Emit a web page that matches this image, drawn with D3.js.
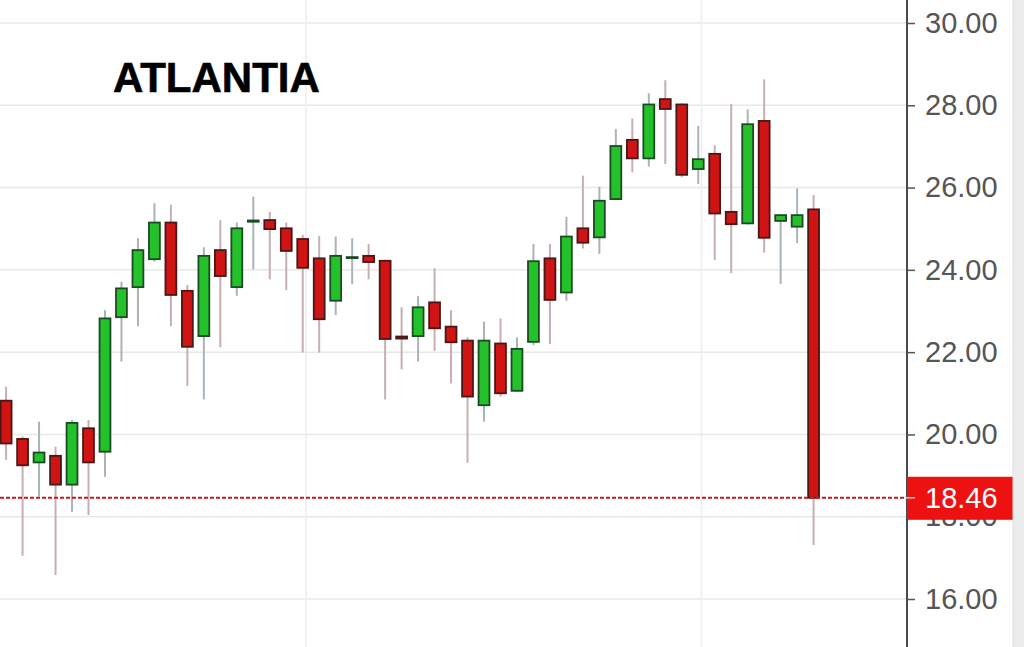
<!DOCTYPE html>
<html>
<head>
<meta charset="utf-8">
<script src="https://cdn.jsdelivr.net/npm/d3@7"></script>
<style>
  html, body { margin: 0; padding: 0; background: #fff; }
  svg { display: block; }
  .tick text { font-family: "Liberation Sans", Arial, sans-serif; }
</style>
</head>
<body>
<div id="chart"></div>
<script>
const title = "ATLANTIA";
const opens  = [20.82, 19.89, 19.32, 19.48, 18.78, 20.15, 19.58, 22.85, 23.58, 24.26,
                25.15, 23.49, 22.39, 24.48, 23.58, 25.17, 25.21, 25.01, 24.75, 24.28,
                23.25, 24.29, 24.34, 24.22, 22.38, 22.39, 23.21, 22.62, 22.28, 20.71,
                22.21, 21.06, 22.25, 24.28, 23.45, 25.01, 24.79, 25.72, 27.16, 26.71,
                28.15, 28.02, 26.45, 26.82, 25.41, 25.13, 27.62, 25.19, 25.05, 25.47];
const highs  = [21.16, 19.95, 20.31, 19.70, 20.35, 20.35, 23.02, 23.71, 24.77, 25.62,
                25.58, 23.63, 24.55, 25.21, 25.15, 25.78, 25.41, 25.15, 24.85, 24.82,
                24.81, 24.77, 24.63, 24.25, 23.09, 23.36, 24.04, 23.02, 22.36, 22.74,
                22.82, 22.36, 24.63, 24.63, 25.29, 26.29, 26.02, 27.42, 27.68, 28.29,
                28.61, 28.05, 27.50, 27.03, 28.03, 27.90, 28.63, 25.35, 25.98, 25.82];
const lows   = [19.38, 17.05, 18.49, 16.58, 18.12, 18.04, 18.97, 21.77, 22.63, 24.20,
                22.63, 21.18, 20.85, 22.12, 23.37, 24.01, 23.77, 23.51, 21.99, 21.99,
                22.90, 23.65, 23.77, 20.85, 21.58, 21.77, 22.03, 21.24, 19.31, 20.31,
                20.92, 21.04, 22.17, 22.20, 23.25, 24.52, 24.39, 25.70, 26.37, 26.51,
                26.57, 26.25, 26.09, 24.24, 23.92, 25.10, 24.42, 23.66, 24.65, 17.31];
const closes = [19.78, 19.25, 19.56, 18.78, 20.28, 19.32, 22.82, 23.55, 24.48, 25.15,
                23.39, 22.13, 24.34, 23.85, 25.01, 25.20, 24.99, 24.46, 24.05, 22.80,
                24.34, 24.31, 24.19, 22.32, 22.33, 23.09, 22.58, 22.24, 20.92, 22.28,
                21.00, 22.08, 24.21, 23.27, 24.81, 24.66, 25.68, 27.01, 26.71, 28.02,
                27.91, 26.31, 26.69, 25.37, 25.11, 27.54, 24.78, 25.33, 25.33, 18.46];
const yTicks = [16, 18, 20, 22, 24, 26, 28, 30];
const periodLines = [18.2, 42.2];   // period boundaries, in candle index units
const lastPrice = 18.46;

const W = 1024, H = 647, axisX = 907, stripX = 1013;
const candles = opens.map((o, i) => ({ i, o, h: highs[i], l: lows[i], c: closes[i] }));

const svg = d3.select("#chart").append("svg").attr("width", W).attr("height", H);
svg.append("rect").attr("width", W).attr("height", H).attr("fill", "#fff");

const x = d3.scaleLinear().domain([0, candles.length - 1]).range([6.1, 813.6]);
const y = d3.scaleLinear().domain([16, 30]).range([599, 23]);
const step = x(1) - x(0), bodyW = step * 0.66;

// grid
svg.append("g").selectAll("line").data(yTicks).join("line")
    .attr("x1", 0).attr("x2", axisX).attr("y1", d => y(d)).attr("y2", d => y(d))
    .attr("stroke", "#e8e8e8").attr("stroke-width", 1.5);
svg.append("g").selectAll("line").data(periodLines).join("line")
    .attr("x1", d => x(d)).attr("x2", d => x(d)).attr("y1", 0).attr("y2", H)
    .attr("stroke", "#ececec").attr("stroke-width", 1.5);

// wicks
svg.append("g").selectAll("line").data(candles).join("line")
    .attr("x1", d => x(d.i)).attr("x2", d => x(d.i))
    .attr("y1", d => y(d.h)).attr("y2", d => y(d.l))
    .attr("stroke", d => d.c >= d.o ? "#a9b3ba" : "#c6aeb3").attr("stroke-width", 2);

// bodies
svg.append("g").selectAll("rect").data(candles).join("rect")
    .attr("x", d => x(d.i) - bodyW / 2).attr("width", bodyW)
    .attr("y", d => y(Math.max(d.o, d.c)))
    .attr("height", d => Math.max(1, Math.abs(y(d.o) - y(d.c))))
    .attr("fill", d => d.c >= d.o ? "#24c22a" : "#d01414")
    .attr("stroke", d => d.c >= d.o ? "#1c4a22" : "#4a1616").attr("stroke-width", 1.8);

// last price line
svg.append("line").attr("x1", 0).attr("x2", axisX).attr("y1", y(lastPrice)).attr("y2", y(lastPrice))
    .attr("stroke", "#c81818").attr("stroke-width", 2).attr("stroke-dasharray", "4,2");

// right axis
const axis = svg.append("g").attr("transform", `translate(${axisX},0)`)
    .call(d3.axisRight(y).tickValues(yTicks).tickFormat(d3.format(".2f")).tickSize(8).tickPadding(10));
axis.select(".domain").remove();
axis.selectAll(".tick line").attr("stroke", "#555").attr("stroke-width", 1.5);
axis.selectAll(".tick text").attr("fill", "#555").style("font-size", "29px");
svg.append("line").attr("x1", axisX).attr("x2", axisX).attr("y1", 0).attr("y2", H)
    .attr("stroke", "#4a4a4a").attr("stroke-width", 2);

// last price label
const ly = y(lastPrice);
svg.append("rect").attr("x", axisX).attr("y", ly - 21).attr("width", stripX - axisX).attr("height", 43)
    .attr("fill", "#ee1111");
svg.append("line").attr("x1", axisX - 2).attr("x2", axisX + 8).attr("y1", ly).attr("y2", ly)
    .attr("stroke", "#f6c0c0").attr("stroke-width", 1.5);
svg.append("text").attr("x", axisX + 18).attr("y", ly).attr("dy", "0.35em")
    .attr("fill", "#fff").style("font-family", "'Liberation Sans', Arial, sans-serif")
    .style("font-size", "29px").text(d3.format(".2f")(lastPrice));

// right strip
svg.append("rect").attr("x", stripX).attr("y", 0).attr("width", W - stripX).attr("height", H)
    .attr("fill", "#ececec");
svg.append("line").attr("x1", stripX).attr("x2", stripX).attr("y1", 0).attr("y2", H)
    .attr("stroke", "#dcdcdc").attr("stroke-width", 1);

// title
svg.append("text").attr("x", 113).attr("y", 92)
    .style("font-family", "'Liberation Sans', Arial, sans-serif").style("font-weight", "bold")
    .style("font-size", "42px").attr("fill", "#000").attr("stroke", "#000").attr("stroke-width", 0.6)
    .text(title);
</script>
</body>
</html>
